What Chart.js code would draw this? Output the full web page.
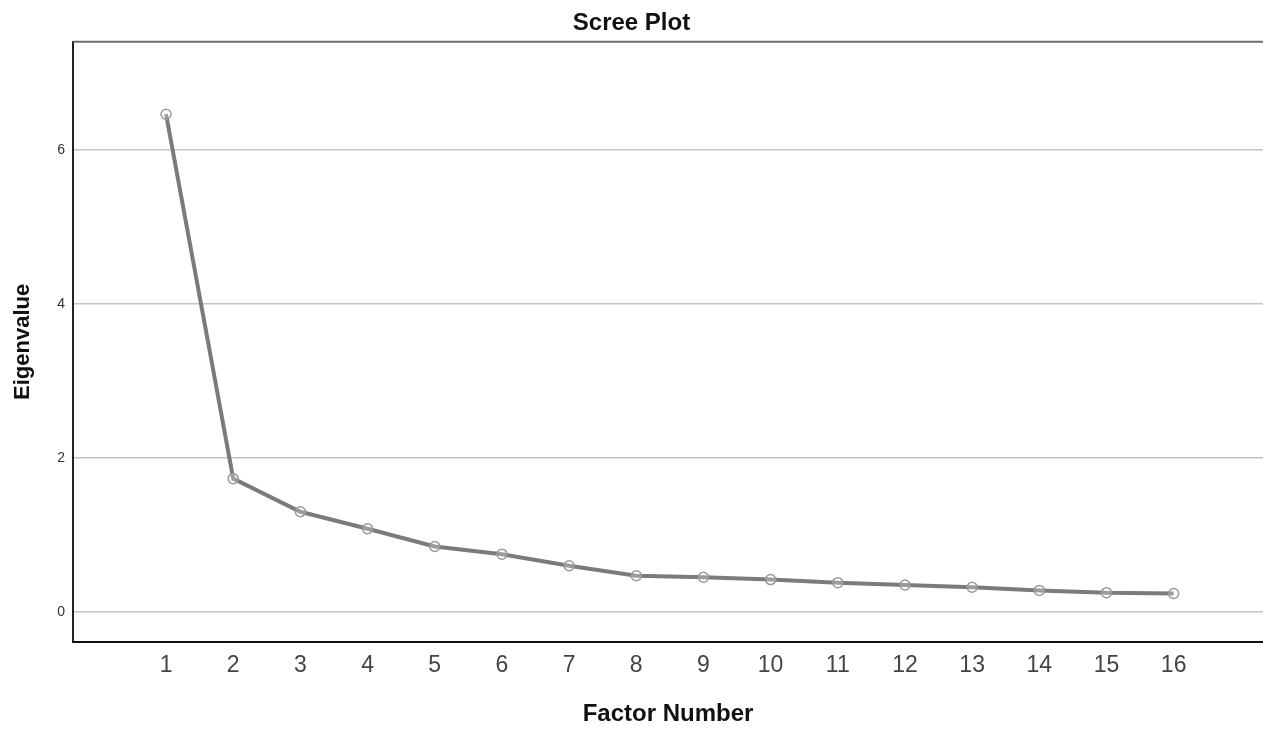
<!DOCTYPE html>
<html>
<head>
<meta charset="utf-8">
<title>Scree Plot</title>
<script src="https://cdn.jsdelivr.net/npm/chart.js@4"></script>
<style>
  html, body { margin: 0; padding: 0; background: #ffffff; overflow: hidden; }
  #screeChart { display: block; }
</style>
</head>
<body>
<canvas id="screeChart" width="1263" height="729"></canvas>
<script>
// scree plot data
const factorNumbers = [1, 2, 3, 4, 5, 6, 7, 8, 9, 10, 11, 12, 13, 14, 15, 16];
const eigenvalues = [6.46, 1.73, 1.30, 1.08, 0.85, 0.75, 0.60, 0.47, 0.45, 0.42, 0.38, 0.35, 0.32, 0.28, 0.25, 0.24];
const yTickValues = [0, 2, 4, 6];

const FONT = "'Liberation Sans', Arial, sans-serif";

// draws the top frame line of the plot area
const topBorder = {
    id: 'topBorder',
    afterDraw(chart) {
        const { ctx, chartArea } = chart;
        ctx.save();
        ctx.strokeStyle = '#6e6e6e';
        ctx.lineWidth = 2;
        ctx.beginPath();
        ctx.moveTo(chartArea.left, chartArea.top);
        ctx.lineTo(chartArea.right, chartArea.top);
        ctx.stroke();
        ctx.restore();
    }
};

const ctx = document.getElementById('screeChart').getContext('2d');

new Chart(ctx, {
    type: 'line',
    data: {
        datasets: [{
            label: 'Eigenvalue',
            data: factorNumbers.map((f, i) => ({ x: f, y: eigenvalues[i] })),
            borderColor: '#7b7b7b',
            borderWidth: 4,
            pointRadius: 5,
            pointBorderWidth: 1.5,
            pointBorderColor: '#999999',
            pointBackgroundColor: 'rgba(255,255,255,0.25)',
            tension: 0
        }]
    },
    options: {
        responsive: false,
        animation: false,
        layout: { padding: 0, autoPadding: false },
        plugins: {
            legend: { display: false },
            tooltip: { enabled: false },
            title: {
                display: true,
                text: 'Scree Plot',
                color: '#111111',
                font: { family: FONT, size: 24, weight: 'bold' },
                padding: { top: 9, bottom: 4 }
            }
        },
        scales: {
            x: {
                type: 'linear',
                min: -0.385,
                max: 17.33,
                afterBuildTicks: (scale) => {
                    scale.ticks = factorNumbers.map(v => ({ value: v }));
                },
                afterFit: (scale) => {
                    scale.height = 87;
                    scale.paddingLeft = 0;
                    scale.paddingRight = 0;
                },
                grid: { display: false, drawTicks: false },
                border: { display: true, color: '#111111', width: 2 },
                ticks: {
                    color: '#444444',
                    padding: 10,
                    font: { family: FONT, size: 23 },
                    maxRotation: 0,
                    autoSkip: false
                },
                title: {
                    display: true,
                    text: 'Factor Number',
                    color: '#111111',
                    font: { family: FONT, size: 24, weight: 'bold' },
                    padding: { top: 0, bottom: 0 }
                }
            },
            y: {
                min: -0.39,
                max: 7.4,
                afterBuildTicks: (scale) => {
                    scale.ticks = yTickValues.map(v => ({ value: v }));
                },
                afterFit: (scale) => { scale.width = 73; },
                grid: { color: '#c4c4c4', lineWidth: 1.5, drawTicks: false },
                border: { display: true, color: '#222222', width: 2 },
                ticks: {
                    color: '#333333',
                    padding: 8,
                    font: { family: FONT, size: 14 }
                },
                title: {
                    display: true,
                    text: 'Eigenvalue',
                    color: '#111111',
                    font: { family: FONT, size: 22, weight: 'bold' },
                    padding: { top: 10, bottom: 0 }
                }
            }
        }
    },
    plugins: [topBorder]
});
</script>
</body>
</html>
